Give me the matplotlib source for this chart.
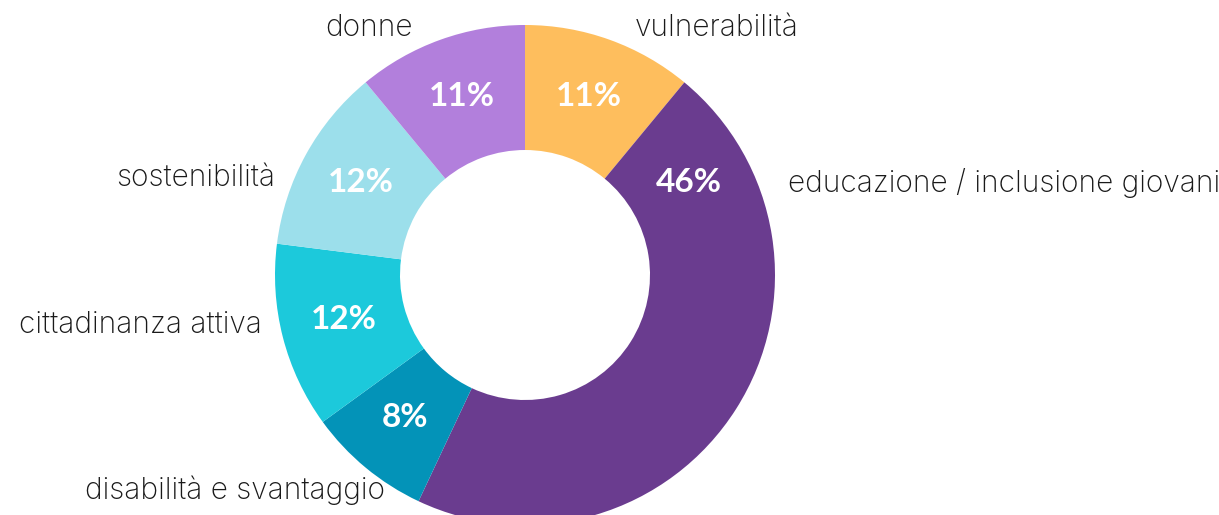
import matplotlib.pyplot as plt
import numpy as np

categories = ['vulnerabilità', 'educazione / inclusione giovani', 'disabilità e svantaggio',
              'cittadinanza attiva', 'sostenibilità', 'donne']
values = [11, 46, 8, 12, 12, 11]
pct_labels = ['11%', '46%', '8%', '12%', '12%', '11%']
colors = ['#FEBE5D', '#6A3C8F', '#0393B8', '#1CC9DB', '#9CDFEB', '#B27FDC']

# label anchors in pixel coords (x, y from top), alignment
label_pos = [(635, 28, 'left'), (788, 183, 'left'), (385, 490, 'right'),
             (262, 325, 'right'), (275, 178, 'right'), (413, 28, 'right')]

W, H = 1219, 515
cx, cy, R = 525, 275, 250

fig = plt.figure(figsize=(W / 100, H / 100), dpi=100)
ax = fig.add_axes([0, 0, 1, 1])
wedges, _ = ax.pie(values, colors=colors, startangle=90, counterclock=False,
                   center=(cx, H - cy), radius=R, frame=True,
                   wedgeprops=dict(width=R / 2, linewidth=0))
ax.set_xlim(0, W)
ax.set_ylim(0, H)
ax.set_aspect('equal')
ax.axis('off')

# percent labels at the middle of the ring
for i, w in enumerate(wedges):
    ang = np.deg2rad((w.theta1 + w.theta2) / 2)
    if values[i] > 40:
        ang = np.deg2rad(90 - 61)
    r = R * 0.75
    ax.text(cx + r * np.cos(ang), H - cy + r * np.sin(ang) + 2, pct_labels[i],
            ha='center', va='center', color='white', fontsize=24,
            fontweight='bold', family='Lato')

for (x, y, ha), name in zip(label_pos, categories):
    ax.text(x, H - y, name, ha=ha, va='center', fontsize=21.5, color='#1a1a1a',
            family='Inter', fontweight='light')

fig.savefig('out.png', dpi=100)
